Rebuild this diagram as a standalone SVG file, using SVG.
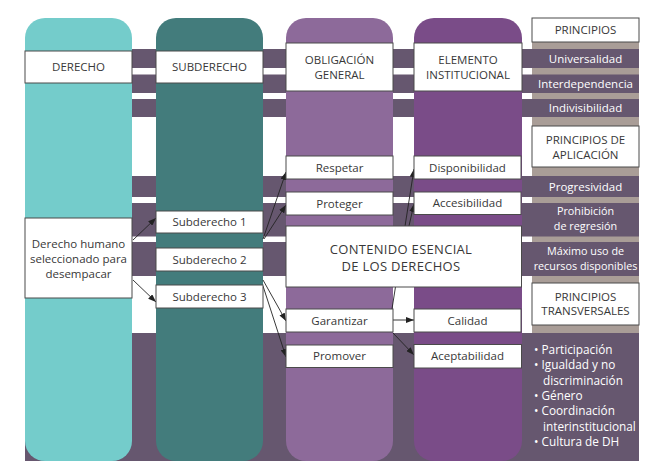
<svg xmlns="http://www.w3.org/2000/svg" width="670" height="474" viewBox="0 0 670 474">
<defs>
<style>
.band{fill:#66576f}
.box{fill:#ffffff;stroke:#4a4a4a;stroke-width:1}
.t{font-family:"Open Sans","Noto Sans",sans-serif;font-size:11.5px;fill:#383838;text-anchor:middle}
.tb{font-family:"Open Sans","Noto Sans",sans-serif;font-size:13px;fill:#383838;text-anchor:middle;letter-spacing:0.3px}
.w{font-family:"Open Sans","Noto Sans",sans-serif;font-size:11.5px;fill:#ffffff;text-anchor:middle;font-weight:500}
.w2{font-family:"Open Sans","Noto Sans",sans-serif;font-size:10.8px;fill:#ffffff;text-anchor:middle;font-weight:500}
.wl{font-family:"Open Sans","Noto Sans",sans-serif;font-size:11.8px;fill:#ffffff;font-weight:500}
.c{stroke:#222222;stroke-width:0.9;fill:none;marker-end:url(#ah)}
</style>
<marker id="ah" markerUnits="userSpaceOnUse" markerWidth="8" markerHeight="6" refX="8" refY="3" orient="auto">
<path d="M0,0 L8,3 L0,6 z" fill="#222222"/>
</marker>
</defs>
<rect x="0" y="0" width="670" height="474" fill="#ffffff"/>
<g id="background">
<rect x="532" y="42" width="107" height="291" fill="#a99d97"/>
<rect class="band" x="25" y="49" width="614" height="19"/>
<rect class="band" x="25" y="74.5" width="614" height="18.5"/>
<rect class="band" x="25" y="99" width="614" height="18"/>
<rect class="band" x="25" y="176" width="614" height="21"/>
<rect class="band" x="25" y="203" width="614" height="33.5"/>
<rect class="band" x="25" y="242" width="614" height="34"/>
<rect class="band" x="25" y="333" width="614" height="128"/>
<rect id="col1" x="25" y="18" width="107" height="443" rx="20" fill="#74cccb"/>
<rect id="col2" x="156" y="18" width="107" height="443" rx="20" fill="#437c7c"/>
<rect id="col3" x="286" y="18" width="107" height="443" rx="20" fill="#8d6a9a"/>
<rect id="col4" x="414" y="18" width="108" height="443" rx="20" fill="#7a4c88"/>
</g>
<g id="connectors">
<line class="c" x1="133" y1="240" x2="156" y2="218"/>
<line class="c" x1="133" y1="280" x2="156" y2="302"/>
<line class="c" x1="263" y1="239" x2="286" y2="172"/>
<line class="c" x1="264" y1="239" x2="286" y2="205"/>
<line class="c" x1="263" y1="280" x2="286" y2="321"/>
<line class="c" x1="263" y1="286" x2="286" y2="357"/>
<line class="c" x1="392" y1="309" x2="414" y2="169"/>
<line class="c" x1="395" y1="287" x2="414" y2="204"/>
<line class="c" x1="393" y1="320" x2="414" y2="320"/>
<line class="c" x1="393" y1="333" x2="414" y2="355"/>
</g>
<g id="derecho-header"><rect class="box" x="25" y="51" width="107" height="32"/><text class="t" x="78.5" y="71">DERECHO</text></g>
<g id="subderecho-header"><rect class="box" x="156" y="51" width="107" height="32"/><text class="t" x="209.5" y="71">SUBDERECHO</text></g>
<g id="obligacion-header"><rect class="box" x="286" y="43" width="107" height="48"/><text class="t" x="339.5" y="64">OBLIGACIÓN</text><text class="t" x="339.5" y="79">GENERAL</text></g>
<g id="elemento-header"><rect class="box" x="414" y="43" width="108" height="48"/><text class="t" x="468" y="64">ELEMENTO</text><text class="t" x="468" y="79">INSTITUCIONAL</text></g>
<g id="principios"><rect class="box" x="532" y="18" width="107" height="24"/><text class="t" x="585.5" y="34">PRINCIPIOS</text></g>
<g id="universalidad"><text class="w" x="585.5" y="62.5">Universalidad</text></g>
<g id="interdependencia"><text class="w" x="585.5" y="88">Interdependencia</text></g>
<g id="indivisibilidad"><text class="w" x="585.5" y="112">Indivisibilidad</text></g>
<g id="principios-aplicacion"><rect class="box" x="532" y="126" width="107" height="41"/><text class="t" x="585.5" y="144">PRINCIPIOS DE</text><text class="t" x="585.5" y="158.5">APLICACIÓN</text></g>
<g id="progresividad"><text class="w" x="585.5" y="190.5">Progresividad</text></g>
<g id="prohibicion"><text class="w2" x="585.5" y="215">Prohibición</text><text class="w2" x="585.5" y="230">de regresión</text></g>
<g id="maximo"><text class="w2" x="585.5" y="255">Máximo uso de</text><text class="w2" x="585.5" y="270">recursos disponibles</text></g>
<g id="principios-transversales"><rect class="box" x="532" y="283" width="107" height="42"/><text class="t" x="585.5" y="301">PRINCIPIOS</text><text class="t" x="585.5" y="315">TRANSVERSALES</text></g>
<g id="transversales-lista">
<text class="wl" x="534" y="354">• Participación</text>
<text class="wl" x="534" y="369.3">• Igualdad y no</text>
<text class="wl" x="543" y="384.6">discriminación</text>
<text class="wl" x="534" y="399.9">• Género</text>
<text class="wl" x="534" y="415.2">• Coordinación</text>
<text class="wl" x="543" y="430.5">interinstitucional</text>
<text class="wl" x="534" y="445.8">• Cultura de DH</text>
</g>
<g id="derecho-humano"><rect class="box" x="25" y="218" width="107" height="80"/><text class="t" x="78.5" y="248">Derecho humano</text><text class="t" x="78.5" y="263">seleccionado para</text><text class="t" x="78.5" y="278">desempacar</text></g>
<g id="subderecho1"><rect class="box" x="156" y="211" width="107" height="22"/><text class="t" x="209.5" y="226">Subderecho 1</text></g>
<g id="subderecho2"><rect class="box" x="156" y="248" width="107" height="23"/><text class="t" x="209.5" y="263.5">Subderecho 2</text></g>
<g id="subderecho3"><rect class="box" x="156" y="285" width="107" height="23"/><text class="t" x="209.5" y="300.5">Subderecho 3</text></g>
<g id="respetar"><rect class="box" x="286" y="156" width="107" height="23"/><text class="t" x="339.5" y="171.5">Respetar</text></g>
<g id="proteger"><rect class="box" x="286" y="192" width="107" height="23"/><text class="t" x="339.5" y="207.5">Proteger</text></g>
<g id="disponibilidad"><rect class="box" x="414" y="156" width="107" height="23"/><text class="t" x="467.5" y="171.5">Disponibilidad</text></g>
<g id="accesibilidad"><rect class="box" x="414" y="192" width="107" height="22.5"/><text class="t" x="467.5" y="207">Accesibilidad</text></g>
<g id="contenido-esencial"><rect class="box" x="286" y="226" width="235.5" height="61"/><text class="tb" x="401" y="253.5">CONTENIDO ESENCIAL</text><text class="tb" x="401" y="270.5">DE LOS DERECHOS</text></g>
<g id="garantizar"><rect class="box" x="286" y="309" width="107" height="23"/><text class="t" x="339.5" y="324.5">Garantizar</text></g>
<g id="promover"><rect class="box" x="286" y="345" width="107" height="22.5"/><text class="t" x="339.5" y="360">Promover</text></g>
<g id="calidad"><rect class="box" x="414" y="309" width="107" height="23"/><text class="t" x="467.5" y="324.5">Calidad</text></g>
<g id="aceptabilidad"><rect class="box" x="414" y="344.5" width="107.5" height="23.5"/><text class="t" x="467.5" y="360">Aceptabilidad</text></g>
</svg>
